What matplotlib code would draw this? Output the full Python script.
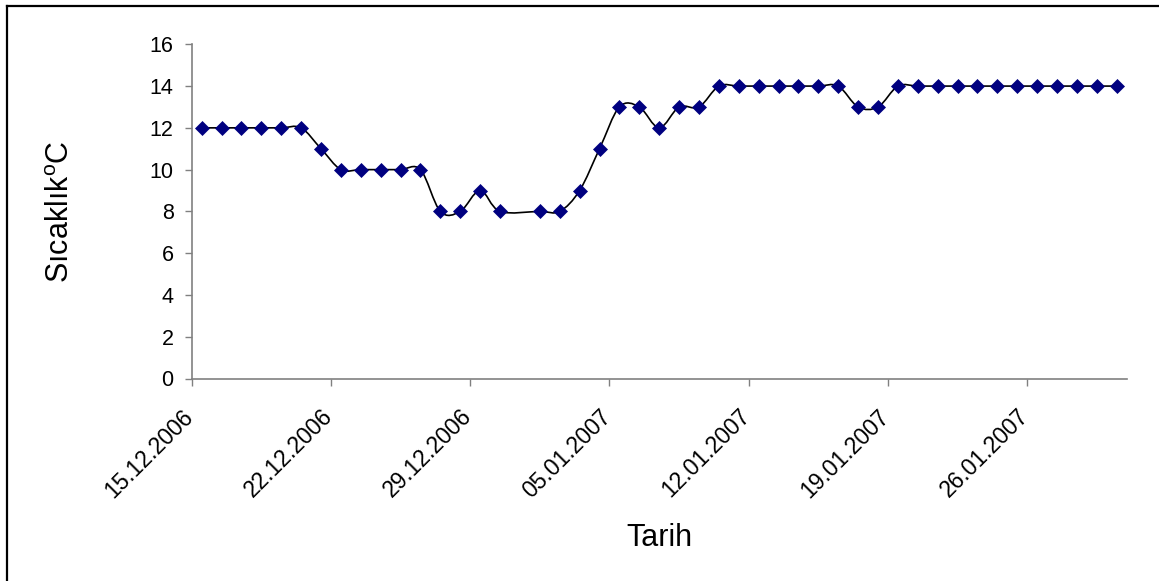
import matplotlib
matplotlib.use('Agg')
import matplotlib.pyplot as plt
import matplotlib.dates as mdates
from matplotlib.path import Path
from matplotlib.patches import PathPatch
from matplotlib.lines import Line2D
from matplotlib.transforms import ScaledTranslation
from datetime import datetime
import numpy as np

plt.rcParams['font.family'] = ['Liberation Sans', 'DejaVu Sans']
plt.rcParams['mathtext.fontset'] = 'custom'
plt.rcParams['mathtext.rm'] = 'Liberation Sans'

# günlük ölçümler (31.12.2006 ölçümü yok)
tarih = ['15.12.2006', '16.12.2006', '17.12.2006', '18.12.2006', '19.12.2006',
         '20.12.2006', '21.12.2006', '22.12.2006', '23.12.2006', '24.12.2006',
         '25.12.2006', '26.12.2006', '27.12.2006', '28.12.2006', '29.12.2006',
         '30.12.2006',
         '01.01.2007', '02.01.2007', '03.01.2007', '04.01.2007', '05.01.2007',
         '06.01.2007', '07.01.2007', '08.01.2007', '09.01.2007', '10.01.2007',
         '11.01.2007', '12.01.2007', '13.01.2007', '14.01.2007', '15.01.2007',
         '16.01.2007', '17.01.2007', '18.01.2007', '19.01.2007', '20.01.2007',
         '21.01.2007', '22.01.2007', '23.01.2007', '24.01.2007', '25.01.2007',
         '26.01.2007', '27.01.2007', '28.01.2007', '29.01.2007', '30.01.2007']
sicaklik = [12, 12, 12, 12, 12, 12, 11, 10, 10, 10, 10, 10, 8, 8, 9, 8,
            8, 8, 9, 11, 13, 13, 12, 13, 13, 14, 14, 14, 14, 14, 14, 14,
            13, 13, 14, 14, 14, 14, 14, 14, 14, 14, 14, 14, 14, 14]

haftalar = ['15.12.2006', '22.12.2006', '29.12.2006', '05.01.2007',
            '12.01.2007', '19.01.2007', '26.01.2007']
eksen_bas, eksen_son = '15.12.2006', '31.01.2007'
y_ticks = [0, 2, 4, 6, 8, 10, 12, 14, 16]


def gun(s):
    return mdates.date2num(datetime.strptime(s, '%d.%m.%Y'))


# noktalar günün ortasına
x = np.array([gun(t) + 0.5 for t in tarih])
y = np.array(sicaklik, dtype=float)

fig = plt.figure(figsize=(11.59, 5.81), dpi=100)
ax = fig.add_axes([191.7 / 1159, 1 - 378.5 / 581, 935 / 1159, 334.2 / 581])

# yumuşatılmış çizgi (kübik bezier)
pts = np.column_stack([x, y])
n = len(pts)
verts = [pts[0]]
codes = [Path.MOVETO]
for i in range(n - 1):
    p0 = pts[i - 1] if i > 0 else pts[i]
    p1 = pts[i]
    p2 = pts[i + 1]
    p3 = pts[i + 2] if i + 2 < n else pts[i + 1]
    verts += [p1 + (p2 - p0) / 6, p2 - (p3 - p1) / 6, p2]
    codes += [Path.CURVE4] * 3
ax.add_patch(PathPatch(Path(verts, codes), fill=False, edgecolor='black',
                       lw=1.2, zorder=2))

ax.plot(x, y, 'D', color='#000080', ms=6.8, mec='#000080', mew=0.5, zorder=3)

ax.set_xlim(gun(eksen_bas), gun(eksen_son))
ax.set_ylim(0, 16)
ax.set_yticks(y_ticks)
ax.set_xticks([gun(h) for h in haftalar])
ax.set_xticklabels(haftalar, rotation=45, ha='right', rotation_mode='anchor')

for s in ['top', 'right']:
    ax.spines[s].set_visible(False)
for s in ['left', 'bottom']:
    ax.spines[s].set_color('#808080')
    ax.spines[s].set_linewidth(1.2)

ax.tick_params(axis='both', colors='#808080', length=5, width=1.0,
               labelcolor='black', labelsize=15.5)
ax.tick_params(axis='y', pad=8)
ax.tick_params(axis='x', pad=14, labelsize=16.5)

# tarih etiketlerini biraz sola kaydır
kaydir = ScaledTranslation(-10 / 100, 0, fig.dpi_scale_trans)
for lbl in ax.get_xticklabels():
    lbl.set_transform(lbl.get_transform() + kaydir)

ax.set_ylabel('Sıcaklık$^{\\mathrm{o}}$C', fontsize=22)
ax.yaxis.set_label_coords(-0.124, 0.5)
ax.set_xlabel('Tarih', fontsize=22)
ax.xaxis.set_label_coords(0.5, -0.432)

# çerçeve (üst ve sol kenar)
fig.add_artist(Line2D([7 / 1159, 1], [1 - 5.5 / 581, 1 - 5.5 / 581],
                      color='black', lw=1.6, transform=fig.transFigure))
fig.add_artist(Line2D([7 / 1159, 7 / 1159], [0, 1 - 5.5 / 581],
                      color='black', lw=1.6, transform=fig.transFigure))

fig.savefig('out.png', dpi=100)
